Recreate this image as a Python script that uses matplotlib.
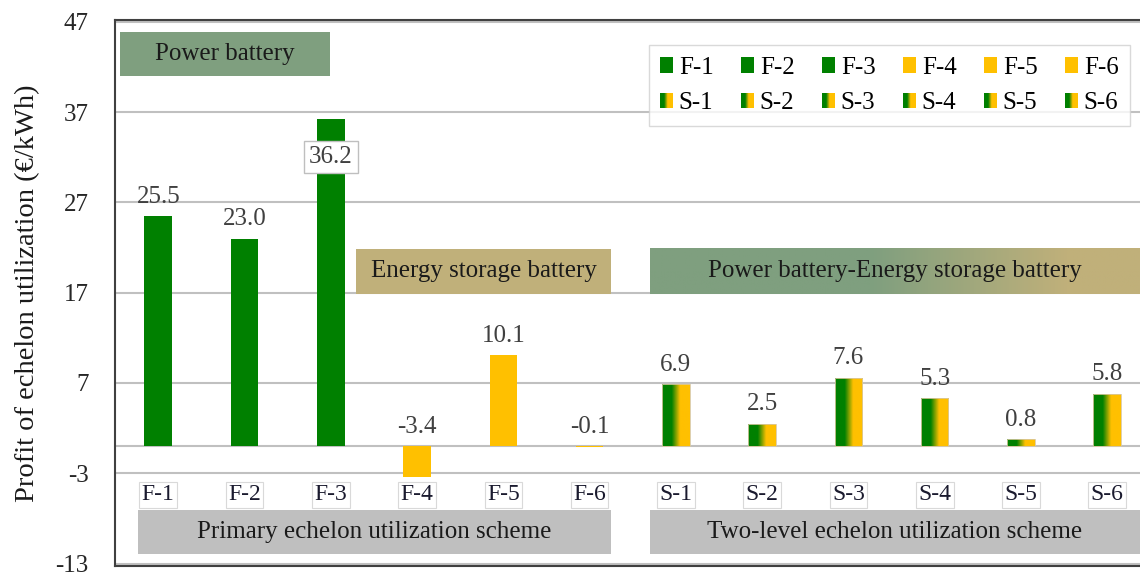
import numpy as np
import matplotlib
matplotlib.use("Agg")
import matplotlib.pyplot as plt
from matplotlib.patches import Rectangle
from matplotlib.colors import LinearSegmentedColormap
from matplotlib.legend_handler import HandlerBase

plt.rcParams['font.family'] = ['Liberation Serif', 'DejaVu Serif']

labels = ['F-1', 'F-2', 'F-3', 'F-4', 'F-5', 'F-6',
          'S-1', 'S-2', 'S-3', 'S-4', 'S-5', 'S-6']
values = [25.5, 23.0, 36.2, -3.4, 10.1, -0.1,
          6.9, 2.5, 7.6, 5.3, 0.8, 5.8]
kinds = ['pb', 'pb', 'pb', 'es', 'es', 'es',
         'mix', 'mix', 'mix', 'mix', 'mix', 'mix']
yticks = [-13, -3, 7, 17, 27, 37, 47]

GREEN = '#008000'
YELLOW = '#FFC000'
SAGE = '#7F9F7F'
TAN = '#C0B07A'
bar_cmap = LinearSegmentedColormap.from_list(
    'gy', [(0, GREEN), (0.35, GREEN), (0.65, YELLOW), (1, YELLOW)])
box_cmap = LinearSegmentedColormap.from_list(
    'st', [(0, SAGE), (0.45, SAGE), (0.85, TAN), (1, TAN)])
grad = np.linspace(0, 1, 256).reshape(1, -1)

FS = 18

fig = plt.figure(figsize=(11.4, 5.76), dpi=100)
ax = fig.add_axes([0.101, 0.017, 0.899, 0.948])

x = np.arange(len(labels))
w = 0.32
bars = ax.bar(x, values, width=w, zorder=3)
for b, k in zip(bars, kinds):
    if k == 'pb':
        b.set_facecolor(GREEN)
    elif k == 'es':
        b.set_facecolor(YELLOW)
    else:
        b.set_facecolor('none')
        b.set_edgecolor('#D8C8A0')
        b.set_linewidth(0.6)
        x0, y0 = b.get_x(), b.get_y()
        im = ax.imshow(grad, cmap=bar_cmap, aspect='auto', zorder=2.9,
                       extent=[x0, x0 + b.get_width(), y0, y0 + b.get_height()])
        im.set_clip_path(b)

# value labels
for xi, v in zip(x, values):
    if v == 36.2:
        ax.text(xi, 32.0, '36.2', ha='center', va='center', fontsize=FS,
                color='#404040', zorder=5,
                bbox=dict(boxstyle='square,pad=0.2', fc='white', ec='#BFBFBF', lw=1))
    else:
        ax.annotate(f'{v:.1f}', (xi, max(v, 0)), xytext=(0, 6),
                    textcoords='offset points', ha='center', va='bottom',
                    fontsize=FS, color='#404040', zorder=5)

# category labels
for xi, lab in zip(x, labels):
    ax.text(xi, -5.4, lab, ha='center', va='center', fontsize=FS - 1, color='#1a1a2e',
            bbox=dict(boxstyle='square,pad=0.1', fc='white', ec='#D9D9D9', lw=0.8),
            zorder=5)

# group boxes
def box(x0, x1, y0, y1, text, color):
    ax.add_patch(Rectangle((x0, y0), x1 - x0, y1 - y0, fc=color, ec='none', zorder=4))
    ax.text((x0 + x1) / 2, (y0 + y1) / 2, text, ha='center', va='center',
            fontsize=FS, color='#1a1a1a', zorder=5)

box(-0.44, 1.99, 41.0, 45.9, 'Power battery', SAGE)
box(2.29, 5.25, 16.9, 21.9, 'Energy storage battery', TAN)
ax.imshow(grad, cmap=box_cmap, aspect='auto', zorder=4,
          extent=[5.70, 11.38, 16.9, 21.9])
ax.text((5.70 + 11.38) / 2, 19.4, 'Power battery-Energy storage battery',
        ha='center', va='center', fontsize=FS, color='#1a1a1a', zorder=5)
box(-0.24, 5.25, -12.0, -7.1, 'Primary echelon utilization scheme', '#BFBFBF')
box(5.70, 11.38, -12.0, -7.1, 'Two-level echelon utilization scheme', '#BFBFBF')

ax.set_xlim(-0.5, 11.38)
ax.set_ylim(-13.3, 47.2)

# grid and axes
ax.set_yticks(yticks)
ax.set_yticklabels([str(t) for t in yticks], fontsize=FS, color='#262626')
ax.set_xticks([])
ax.tick_params(axis='y', length=0, pad=19)
ax.yaxis.grid(True, color='#C0C0C0', lw=1.5, zorder=0)
ax.set_axisbelow(True)
ax.axhline(0, color='#C0C0C0', lw=1.5, zorder=1)
for s in ['left', 'bottom', 'top']:
    ax.spines[s].set_color('#404040')
    ax.spines[s].set_linewidth(1.5)
ax.spines['right'].set_visible(False)
ax.set_ylabel('Profit of echelon utilization (€/kWh)', fontsize=20.5, color='#1a1a1a')
ax.yaxis.set_label_coords(-0.073, 0.5)


# legend with gradient squares for S-series
class GradHandler(HandlerBase):
    def create_artists(self, legend, orig_handle, xdescent, ydescent,
                       width, height, fontsize, trans):
        n = 12
        arts = []
        for i in range(n):
            c = bar_cmap((i + 0.5) / n)
            arts.append(Rectangle((-xdescent + width * i / n, -ydescent),
                                  width / n, height, fc=c, ec='none',
                                  transform=trans))
        return arts


class GradKey:
    pass


f_handles = [Rectangle((0, 0), 1, 1, fc=GREEN if k == 'pb' else YELLOW, ec='none')
             for k in kinds[:6]]
s_handles = [GradKey() for _ in range(6)]
handles, leg_labels = [], []
for i in range(6):
    handles += [f_handles[i], s_handles[i]]
    leg_labels += [labels[i], labels[i + 6]]
leg = ax.legend(handles, leg_labels, ncol=6, loc='upper right',
                bbox_to_anchor=(0.990, 0.954), borderaxespad=0, fontsize=FS,
                frameon=True, fancybox=False, edgecolor='#D0D0D0',
                handlelength=0.5, handleheight=0.6, handletextpad=0.25,
                columnspacing=1.1, labelspacing=0.55, borderpad=0.45,
                handler_map={GradKey: GradHandler()})
leg.get_frame().set_linewidth(1.0)
leg.set_zorder(6)

fig.savefig('out.png', dpi=100)
